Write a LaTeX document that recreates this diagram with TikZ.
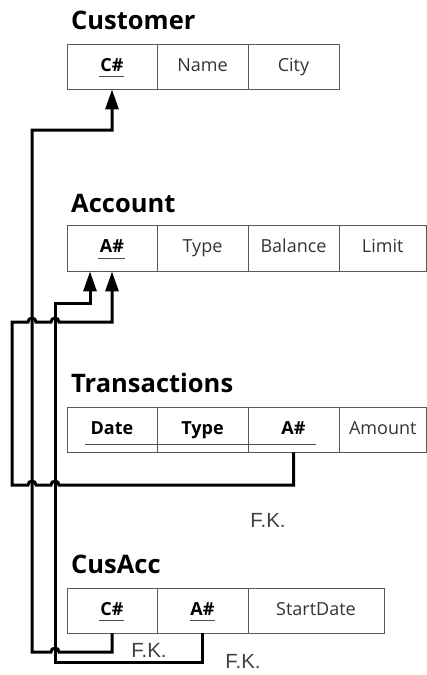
\documentclass[tikz,border=0pt]{standalone}
\usepackage{fontspec}
\setmainfont{Open Sans}
\newfontfamily\fkfont{Liberation Sans}
\usetikzlibrary{arrows.meta}
\begin{document}
\begin{tikzpicture}[x=1pt,y=-1pt,
  title/.style={anchor=base west, inner sep=0pt, font=\fontsize{25.5}{29}\selectfont\bfseries},
  cell/.style={draw=black!65, line width=0.9pt, minimum height=45pt, inner sep=0pt,
    text height=13pt, text depth=4pt,
    font=\fontsize{18}{21}\selectfont, text=black!80},
  keycell/.style={cell, font=\fontsize{18}{21}\selectfont\bfseries, text=black},
  ul/.style={black!70, line width=1pt},
  link/.style={line width=3pt, line join=miter},
  tip/.style={-{Triangle[length=20pt,width=13pt]}},
  fk/.style={font=\fkfont\fontsize{20.5}{24}\selectfont, text=black!75, inner sep=0pt}]
\useasboundingbox (0,0) rectangle (427,675);

% Customer
\node[title] (t-cu) at (71,29) {Customer};
\node[keycell, minimum width=90pt] (cu-c) at (112,66.5) {C\#};
\node[cell, minimum width=91pt] (cu-n) at (202.5,66.5) {Name};
\node[cell, minimum width=91pt] (cu-y) at (293.5,66.5) {City};
\draw[ul] (99,76) -- (124,76);

% Account
\node[title] (t-ac) at (71,212) {Account};
\node[keycell, minimum width=90pt, minimum height=46pt] (ac-a) at (112,248) {A\#};
\node[cell, minimum width=91pt, minimum height=46pt] (ac-t) at (202.5,248) {Type};
\node[cell, minimum width=91pt, minimum height=46pt] (ac-b) at (293.5,248) {Balance};
\node[cell, minimum width=87.5pt, minimum height=46pt] (ac-l) at (382.75,248) {Limit};
\draw[ul] (98,258) -- (125,258);

% Transactions
\node[title] (t-tr) at (71,392) {Transactions};
\node[keycell, minimum width=90pt] (tr-d) at (112,429.5) {Date};
\node[keycell, minimum width=91pt] (tr-t) at (202.5,429.5) {Type};
\node[keycell, minimum width=91pt] (tr-a) at (293.5,429.5) {A\#};
\node[cell, minimum width=87.5pt] (tr-m) at (382.75,429.5) {Amount};
\draw[ul] (85,444) -- (316,444);

% CusAcc
\node[title] (t-ca) at (71,573) {CusAcc};
\node[keycell, minimum width=90pt] (ca-c) at (112,610.5) {C\#};
\node[keycell, minimum width=91pt] (ca-a) at (202.5,610.5) {A\#};
\node[cell, minimum width=136pt] (ca-s) at (316,610.5) {StartDate};
\draw[ul] (99,620) -- (124,620);
\draw[ul] (190,620) -- (215,620);

% foreign keys
\draw[link, tip] (ca-c.south) |- (59,652)
  arc[start angle=0, end angle=-180, radius=4] -- (32,652) -- (32,130) -| (cu-c.south);
\draw[link, tip] (ca-a.south) |- (55,662) |- (90,303) -- ([xshift=-22pt]ac-a.south);
\draw[link, tip] (tr-a.south) |- (59,485)
  arc[start angle=0, end angle=-180, radius=4] -- (36,485)
  arc[start angle=0, end angle=-180, radius=4] -- (12,485) -- (12,322) -- (28,322)
  arc[start angle=180, end angle=360, radius=4] -- (51,322)
  arc[start angle=180, end angle=360, radius=4] -| (ac-a.south);

\node[fk] (fk-tr) at (268,520) {F.K.};
\node[fk] (fk-c) at (149,650) {F.K.};
\node[fk] (fk-a) at (243,661) {F.K.};
\end{tikzpicture}
\end{document}
